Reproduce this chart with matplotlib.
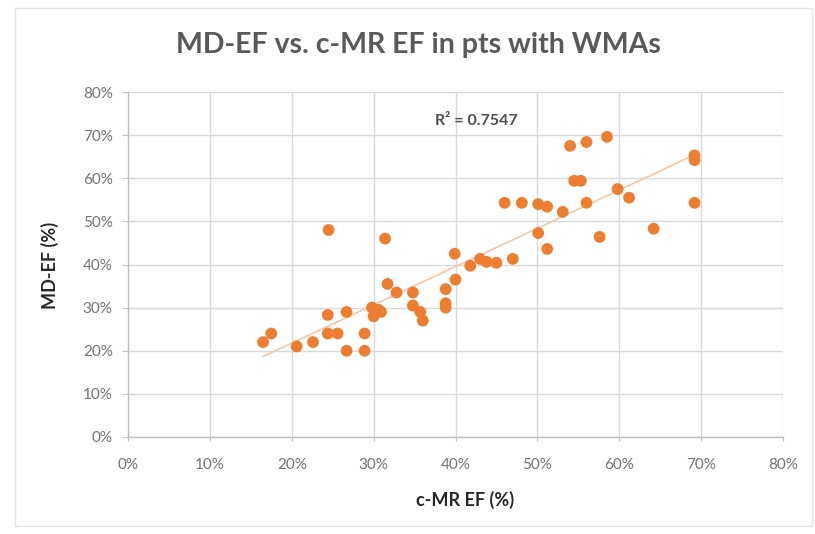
import matplotlib
matplotlib.use("Agg")
import matplotlib.pyplot as plt
import numpy as np
from matplotlib.patches import Rectangle
from matplotlib.ticker import MultipleLocator, FuncFormatter

# Data (percent)
cmr_ef = [16.5, 17.5, 20.6, 22.6, 24.4, 26.7, 24.4, 25.6, 28.9, 26.7, 28.9,
          24.5, 31.4, 29.8, 30.2, 30.0, 30.6, 30.9, 31.7, 32.8, 34.8, 34.8,
          35.7, 36.0, 38.8, 38.8, 38.8, 40.0, 39.9, 41.8, 43.0, 43.8, 45.0,
          47.0, 46.0, 48.1, 50.1, 51.2, 53.1, 50.1, 51.2, 54.0, 56.0, 58.5,
          54.5, 55.3, 56.0, 57.6, 59.8, 61.2, 64.2, 69.2, 69.2, 69.2]
md_ef = [22.0, 24.0, 21.0, 22.0, 28.3, 29.0, 24.0, 24.0, 24.0, 20.0, 20.0,
         48.0, 46.0, 30.0, 29.0, 28.0, 29.5, 29.0, 35.5, 33.5, 33.5, 30.5,
         29.0, 27.0, 34.3, 31.0, 30.0, 36.5, 42.5, 39.7, 41.3, 40.6, 40.4,
         41.3, 54.3, 54.3, 54.0, 53.4, 52.2, 47.3, 43.6, 67.5, 68.4, 69.6,
         59.4, 59.4, 54.3, 46.4, 57.5, 55.5, 48.3, 64.2, 65.3, 54.3]
r2_label = "R² = 0.7547"
title = "MD-EF vs. c-MR EF in pts with WMAs"
xlabel = "c-MR EF (%)"
ylabel = "MD-EF (%)"

W, H = 815, 534
fig = plt.figure(figsize=(W / 100, H / 100), dpi=100)
fig.patch.set_facecolor("white")

# faint chart-area border
fig.patches.append(Rectangle((15 / W, 8 / H), (W - 18) / W, (H - 16) / H,
                             transform=fig.transFigure, fill=False,
                             edgecolor="#E3E3E3", linewidth=1.0))

ax = fig.add_axes([128 / W, (H - 437) / H, (783 - 128) / W, (437 - 92) / H])
ax.set_xlim(0, 80)
ax.set_ylim(0, 80)

gray = "#D9D9D9"
ax.xaxis.set_major_locator(MultipleLocator(10))
ax.yaxis.set_major_locator(MultipleLocator(10))
ax.grid(True, color=gray, linewidth=1.0, zorder=0)
ax.set_axisbelow(True)
for side in ["top", "right"]:
    ax.spines[side].set_visible(False)
for side in ["left", "bottom"]:
    ax.spines[side].set_color("#BFBFBF")
    ax.spines[side].set_linewidth(1.0)

fmt = FuncFormatter(lambda v, p: f"{int(round(v))}%")
ax.xaxis.set_major_formatter(fmt)
ax.yaxis.set_major_formatter(fmt)
ax.tick_params(axis="x", length=3, pad=12, color="#BFBFBF",
               labelsize=11, labelcolor="#737373")
ax.tick_params(axis="y", length=4, pad=7, color="#BFBFBF",
               labelsize=11, labelcolor="#737373")
for lab in ax.get_xticklabels() + ax.get_yticklabels():
    lab.set_fontfamily("Lato")

x = np.array(cmr_ef)
y = np.array(md_ef)
coef = np.polyfit(x, y, 1)
xs = np.array([x.min(), x.max()])
ax.plot(xs, np.polyval(coef, xs), color="#F4C7A6", linewidth=1.2, zorder=2)

ax.scatter(x, y, s=72, color="#ED7D31", edgecolors="none", zorder=3)

ax.text(42.5, 73.3, r2_label, ha="center", va="center", fontsize=11.5,
        fontweight="bold", color="#505050", family="Lato")

fig.text(418 / W, 1 - 45 / H, title, ha="center", va="center",
         fontsize=20.5, fontweight="bold", color="#595959", family="Lato")
fig.text(465 / W, 1 - 500 / H, xlabel, ha="center", va="center",
         fontsize=13, fontweight="bold", color="#262626", family="Lato")
fig.text(50 / W, 1 - 265 / H, ylabel, ha="center", va="center",
         rotation=90, fontsize=13, fontweight="bold", color="#262626",
         family="Lato")

fig.savefig("out.png", dpi=100)
